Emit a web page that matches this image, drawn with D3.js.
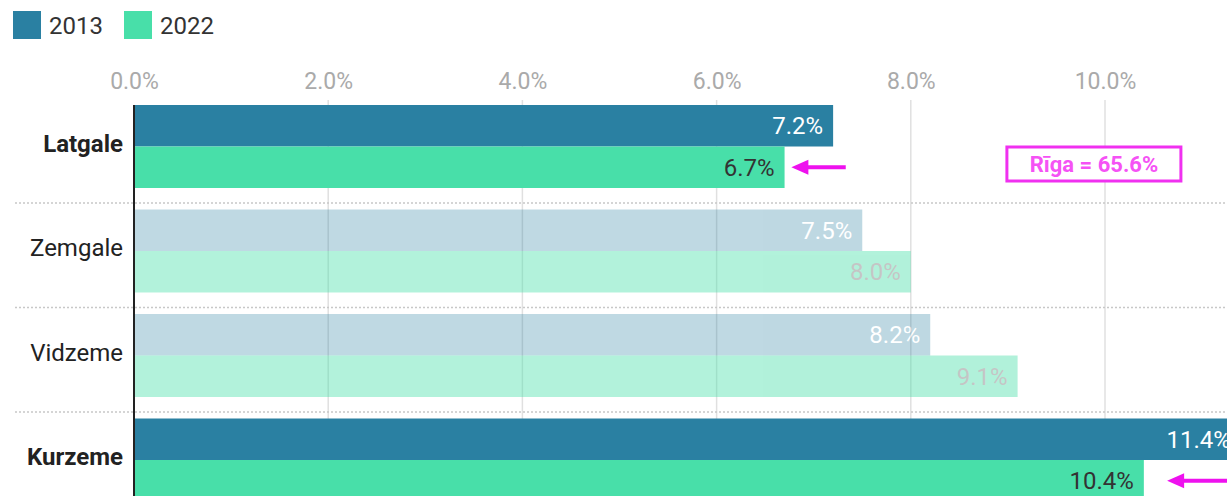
<!DOCTYPE html>
<html>
<head>
<meta charset="utf-8">
<script src="https://cdn.jsdelivr.net/npm/d3@7"></script>
<style>
  body { margin: 0; background: #fff; font-family: Roboto, sans-serif; }
  svg { display: block; }
</style>
</head>
<body>
<div id="chart"></div>
<script>
var regions = ["Latgale", "Zemgale", "Vidzeme", "Kurzeme"];
var years = ["2013", "2022"];
var values2013 = [7.2, 7.5, 8.2, 11.4];
var values2022 = [6.7, 8.0, 9.1, 10.4];
var highlighted = ["Latgale", "Kurzeme"];
var tickValues = [0, 2, 4, 6, 8, 10];
var rigaLabel = "Rīga = 65.6%";

var width = 1227;
var height = 496;
var colors = { "2013": "#2a80a2", "2022": "#48dfa9" };
var fade = { "2013": 0.3, "2022": 0.42 };

var data = regions.map((r, i) => ({ region: r, "2013": values2013[i], "2022": values2022[i] }));

var x = d3.scaleLinear()
    .domain([0, 10])
    .range([134, 1105]);

var y = d3.scaleBand()
    .domain(regions)
    .range([94, 94 + 104.5 * regions.length]);

var y1 = d3.scaleBand()
    .domain(years)
    .range([11, 94]);

const svg = d3.select("#chart").append("svg")
    .attr("width", width)
    .attr("height", height);

// legend
var legend = svg.append("g")
    .selectAll("g")
    .data(years)
    .join("g")
    .attr("transform", (d, i) => `translate(${13 + i * 111},11)`);
legend.append("rect")
    .attr("width", 28)
    .attr("height", 28)
    .attr("fill", d => colors[d]);
legend.append("text")
    .attr("x", 36)
    .attr("y", 23)
    .attr("font-size", 24)
    .attr("fill", "#333")
    .text(d => d);

// gridlines
svg.append("g")
    .selectAll("line")
    .data(tickValues.slice(1))
    .join("line")
    .attr("x1", d => x(d))
    .attr("x2", d => x(d))
    .attr("y1", 100)
    .attr("y2", height)
    .attr("stroke", "#e0e0e0")
    .attr("stroke-width", 1.5);

// x axis on top
const xAxis = g => g
    .attr("transform", "translate(0,89)")
    .call(d3.axisTop(x).tickValues(tickValues).tickSize(0).tickPadding(0).tickFormat(d => d.toFixed(1) + "%"))
    .call(g => g.select(".domain").remove())
    .call(g => g.selectAll("text")
        .attr("font-family", "Roboto, sans-serif")
        .attr("font-size", 23)
        .attr("fill", "#aaa")
        .attr("dy", 0));
svg.append("g").call(xAxis);

// separators
svg.append("g")
    .selectAll("line")
    .data(regions.slice(1))
    .join("line")
    .attr("x1", 15)
    .attr("x2", width)
    .attr("y1", d => y(d) + 4.5)
    .attr("y2", d => y(d) + 4.5)
    .attr("stroke", "#c8c8c8")
    .attr("stroke-width", 1.5)
    .attr("stroke-dasharray", "2,2");

// bars
var groups = svg.append("g")
    .selectAll("g")
    .data(data)
    .join("g")
    .attr("transform", d => `translate(0,${y(d.region)})`);

var bar = groups.selectAll("g")
    .data(d => years.map(k => ({ key: k, value: d[k], on: highlighted.includes(d.region) })))
    .join("g")
    .attr("opacity", d => d.on ? 1 : fade[d.key]);

bar.append("rect")
    .attr("x", x(0))
    .attr("y", d => y1(d.key))
    .attr("width", d => x(d.value) - x(0))
    .attr("height", y1.bandwidth())
    .attr("fill", d => colors[d.key]);

bar.append("text")
    .attr("x", d => x(d.value) - 10)
    .attr("y", d => y1(d.key) + y1.bandwidth() / 2)
    .attr("dy", "0.35em")
    .attr("text-anchor", "end")
    .attr("font-size", 24)
    .attr("fill", d => d.key === "2013" ? "#fff" : (d.on ? "#333" : "#777"))
    .text(d => d.value.toFixed(1) + "%");

// region labels
svg.append("g")
    .selectAll("text")
    .data(regions)
    .join("text")
    .attr("x", 123)
    .attr("y", d => y(d) + 49.5)
    .attr("dy", "0.35em")
    .attr("text-anchor", "end")
    .attr("font-size", 24)
    .attr("font-weight", d => highlighted.includes(d) ? "bold" : "normal")
    .attr("fill", "#222")
    .text(d => d);

// y axis line
svg.append("line")
    .attr("x1", x(0))
    .attr("x2", x(0))
    .attr("y1", 105)
    .attr("y2", height)
    .attr("stroke", "#222")
    .attr("stroke-width", 2);

// arrows pointing at 2022 values of highlighted regions
var arrows = [
    { region: "Latgale", tip: 6.77, tail: 7.33 },
    { region: "Kurzeme", tip: 10.64, tail: 11.5 }
];
var arrowG = svg.append("g")
    .selectAll("g")
    .data(arrows)
    .join("g")
    .attr("transform", d => `translate(0,${y(d.region) + y1("2022") + y1.bandwidth() / 2})`);
arrowG.append("line")
    .attr("x1", d => x(d.tip) + 12)
    .attr("x2", d => x(d.tail))
    .attr("stroke", "#ee11ee")
    .attr("stroke-width", 4);
arrowG.append("path")
    .attr("d", d => `M${x(d.tip)},0L${x(d.tip) + 17},-7.5L${x(d.tip) + 17},7.5Z`)
    .attr("fill", "#ee11ee");

// Rīga callout
var riga = svg.append("g")
    .attr("transform", `translate(${x(9) - 1},${y("Latgale") + 53})`);
riga.append("rect")
    .attr("width", 174)
    .attr("height", 34)
    .attr("fill", "#fff")
    .attr("stroke", "#f030f0")
    .attr("stroke-width", 3);
riga.append("text")
    .attr("x", 87)
    .attr("y", 17)
    .attr("dy", "0.35em")
    .attr("text-anchor", "middle")
    .attr("font-size", 22)
    .attr("font-weight", "bold")
    .attr("fill", "#f552f5")
    .text(rigaLabel);
</script>
</body>
</html>
